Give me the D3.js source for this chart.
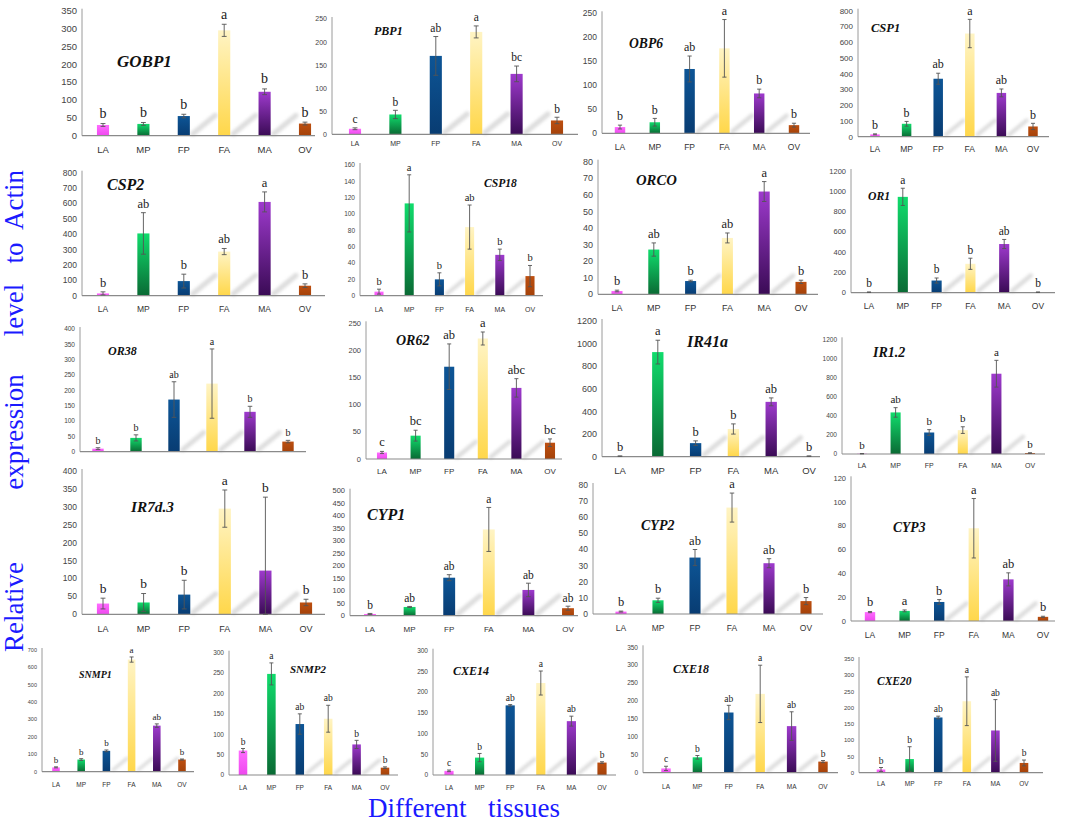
<!DOCTYPE html>
<html>
<head>
<meta charset="utf-8">
<script src="https://cdn.jsdelivr.net/npm/d3@7"></script>
<style>
  body { margin: 0; background: #fff; }
  svg { display: block; }
  .tick { font-family: "Liberation Sans Narrow", "Liberation Sans", Arial, sans-serif; fill: #444; }
  .cat { font-family: "Liberation Sans", Arial, sans-serif; fill: #333; }
  .sig { font-family: "Liberation Serif", "Times New Roman", serif; }
  .ttl { font-family: "Liberation Serif", "Times New Roman", serif; font-weight: bold; font-style: italic; fill: #111; }
  .big { font-family: "Liberation Serif", "Times New Roman", serif; fill: #1a1aff; }
</style>
</head>
<body>
<div id="chart"></div>
<script>
// tissues on the x axis of every panel
var tissues = ["LA", "MP", "FP", "FA", "MA", "OV"];

var genes = ["GOBP1", "PBP1", "OBP6", "CSP1",
             "CSP2", "CSP18", "ORCO", "OR1",
             "OR38", "OR62", "IR41a", "IR1.2",
             "IR7d.3", "CYP1", "CYP2", "CYP3",
             "SNMP1", "SNMP2", "CXE14", "CXE18", "CXE20"];

// relative expression (mean), one row per gene, in tissue order
var means = [
  [30, 33, 55, 295, 123, 34],
  [12, 43, 170, 222, 131, 30],
  [13, 23, 134, 177, 83, 17],
  [15, 82, 368, 655, 278, 65],
  [15, 405, 95, 287, 610, 65],
  [5, 113, 20, 84, 50, 24],
  [2, 27, 8, 34, 62, 7.5],
  [5, 945, 120, 285, 480, 5],
  [10, 45, 170, 222, 130, 33],
  [12, 43, 170, 222, 131, 30],
  [5, 925, 120, 245, 485, 5],
  [3, 435, 225, 250, 840, 10],
  [30, 33, 55, 295, 122, 33],
  [7, 35, 152, 345, 103, 30],
  [1.5, 8.5, 35, 66, 31.5, 8],
  [7.5, 8.5, 16, 78, 35, 3.5],
  [25, 70, 120, 645, 265, 70],
  [60, 248, 125, 138, 75, 18],
  [10, 42, 168, 222, 130, 30],
  [12, 43, 168, 220, 130, 31],
  [10, 42, 170, 220, 130, 30]
];

// error bars (sd)
var sds = [
  [4, 4, 5, 17, 8, 4],
  [2, 9, 42, 13, 17, 7],
  [4, 8, 27, 60, 9, 4],
  [3, 15, 35, 90, 25, 20],
  [10, 135, 45, 20, 65, 12],
  [3, 35, 8, 27, 7, 13],
  [0.5, 4, 0.5, 3, 6, 1],
  [2, 85, 25, 55, 45, 2],
  [3, 10, 58, 113, 18, 4],
  [2, 10, 42, 12, 17, 7],
  [2, 105, 20, 45, 35, 2],
  [2, 50, 30, 35, 140, 3],
  [15, 25, 40, 52, 205, 9],
  [2, 2, 12, 88, 27, 8],
  [0.3, 1.3, 5, 9, 2.8, 2.2],
  [0.5, 0.8, 2, 25, 5.5, 0.5],
  [3, 5, 5, 15, 10, 3],
  [5, 27, 25, 33, 10, 2],
  [2, 10, 2, 29, 12, 2],
  [6, 5, 20, 80, 40, 3],
  [6, 38, 4, 75, 95, 9]
];

// significance letters
var letters = [
  ["b", "b", "b", "a", "b", "b"],
  ["c", "b", "ab", "a", "bc", "b"],
  ["b", "b", "ab", "a", "b", "b"],
  ["b", "b", "ab", "a", "ab", "b"],
  ["b", "ab", "b", "ab", "a", "b"],
  ["b", "a", "b", "ab", "b", "b"],
  ["b", "ab", "b", "ab", "a", "b"],
  ["b", "a", "b", "b", "ab", "b"],
  ["b", "b", "ab", "a", "b", "b"],
  ["c", "bc", "ab", "a", "abc", "bc"],
  ["b", "a", "b", "b", "ab", "b"],
  ["b", "ab", "b", "b", "a", "b"],
  ["b", "b", "b", "a", "b", "b"],
  ["b", "ab", "ab", "a", "ab", "ab"],
  ["b", "b", "ab", "a", "ab", "b"],
  ["b", "a", "b", "a", "ab", "b"],
  ["b", "b", "b", "a", "ab", "b"],
  ["b", "a", "ab", "ab", "b", "b"],
  ["c", "b", "ab", "a", "ab", "b"],
  ["c", "b", "ab", "a", "ab", "b"],
  ["b", "b", "ab", "a", "ab", "b"]
];

// y axis max and tick step of each panel
var axisMax  = [350, 250, 250, 800, 800, 160, 80, 1200, 400, 250, 1200, 1200, 400, 500, 80, 120, 700, 300, 300, 350, 350];
var axisStep = [50, 50, 50, 100, 100, 20, 10, 200, 50, 50, 200, 200, 50, 50, 10, 20, 100, 50, 50, 50, 50];

// where each panel sits on the page
// ax: y axis x, ae: end of x axis, c0/c5: first/last bar centre, yt: top tick y, y0: zero y,
// ly: tissue label y, tx/ty: gene name, ts: name size, fs: tick size, cs: tissue size, ls: letter size
var layout = [
  {ax: 82, ae: 315, c0: 103, c5: 305, yt: 10.7, y0: 135.7, ly: 150, tx: 117, ty: 66.7, ts: 17, fs: 9.5, cs: 9.5, ls: 14},
  {ax: 332, ae: 578, c0: 355, c5: 557, yt: 19, y0: 134.3, ly: 144, tx: 374, ty: 35, ts: 12, fs: 7, cs: 7, ls: 11.5},
  {ax: 602, ae: 810, c0: 620, c5: 794, yt: 13.3, y0: 133.3, ly: 147, tx: 629, ty: 48.3, ts: 13.6, fs: 8.5, cs: 8.5, ls: 12},
  {ax: 858, ae: 1049, c0: 875, c5: 1033, yt: 10.7, y0: 136.7, ly: 149.5, tx: 871, ty: 31.7, ts: 12.5, fs: 8, cs: 8.5, ls: 12},
  {ax: 82, ae: 325, c0: 103, c5: 305, yt: 172.7, y0: 295.7, ly: 309.5, tx: 107, ty: 190, ts: 16, fs: 8.5, cs: 8.5, ls: 12.5},
  {ax: 360, ae: 543, c0: 379, c5: 530, yt: 165, y0: 295.7, ly: 310, tx: 484, ty: 187.3, ts: 11.6, fs: 6.5, cs: 7, ls: 10.5},
  {ax: 598, ae: 818, c0: 617, c5: 801, yt: 161.7, y0: 294.3, ly: 308, tx: 636, ty: 185, ts: 14.7, fs: 9, cs: 9, ls: 12.5},
  {ax: 851, ae: 1055, c0: 869, c5: 1038, yt: 171, y0: 292.7, ly: 306, tx: 868, ty: 200, ts: 11.7, fs: 7.5, cs: 8.5, ls: 11.5},
  {ax: 80, ae: 306, c0: 98, c5: 288, yt: 329, y0: 451.7, ly: null, tx: 108, ty: 355, ts: 12, fs: 6.5, cs: 7, ls: 10},
  {ax: 366, ae: 562, c0: 382, c5: 550, yt: 323.3, y0: 459, ly: 471, tx: 396, ty: 345, ts: 14, fs: 7.5, cs: 8, ls: 12.5},
  {ax: 602, ae: 820, c0: 620, c5: 809, yt: 321, y0: 456.7, ly: 471, tx: 687, ty: 346.7, ts: 16, fs: 9, cs: 9.5, ls: 12.5},
  {ax: 842, ae: 1045, c0: 862, c5: 1030, yt: 339.3, y0: 454, ly: 466, tx: 873, ty: 356.7, ts: 14, fs: 6.5, cs: 7, ls: 11},
  {ax: 82, ae: 325, c0: 103, c5: 306, yt: 471, y0: 614.3, ly: 629, tx: 131, ty: 511.7, ts: 15.3, fs: 8.5, cs: 9, ls: 13.5},
  {ax: 350, ae: 578, c0: 370, c5: 568, yt: 490.7, y0: 615.7, ly: 629, tx: 367, ty: 520, ts: 16, fs: 7.5, cs: 8, ls: 11.5},
  {ax: 593, ae: 823, c0: 621, c5: 806, yt: 485, y0: 614, ly: 628, tx: 641, ty: 530, ts: 14, fs: 8.5, cs: 8.5, ls: 12.5},
  {ax: 851, ae: 1055, c0: 870, c5: 1043, yt: 478.3, y0: 621, ly: 635.5, tx: 893, ty: 531.7, ts: 13.6, fs: 7.5, cs: 8.5, ls: 12.5},
  {ax: 42, ae: 194, c0: 56, c5: 182, yt: 650, y0: 771.7, ly: 785, tx: 79, ty: 678.3, ts: 10, fs: 5.5, cs: 6.5, ls: 9},
  {ax: 229, ae: 398, c0: 243, c5: 385, yt: 652.7, y0: 775, ly: 787.5, tx: 290, ty: 673.3, ts: 11, fs: 6.5, cs: 6.5, ls: 9.5},
  {ax: 433, ae: 616, c0: 449, c5: 602, yt: 650.7, y0: 775, ly: 787.5, tx: 453, ty: 675, ts: 12, fs: 6.5, cs: 6.5, ls: 9.5},
  {ax: 643, ae: 838, c0: 666, c5: 823, yt: 647.3, y0: 772.7, ly: 786.5, tx: 673, ty: 673.3, ts: 12, fs: 6.5, cs: 6.5, ls: 9.5},
  {ax: 859, ae: 1043, c0: 881, c5: 1024, yt: 659, y0: 772.7, ly: 784, tx: 877, ty: 685, ts: 11.5, fs: 6, cs: 6.5, ls: 9.5}
];

// bar colours, top -> bottom
var barColors = {
  LA: ["#ff6cff", "#ee48ee"],
  MP: ["#10dc6c", "#0a6a34"],
  FP: ["#0d5596", "#083c72"],
  FA: ["#fff4c4", "#ffd74a"],
  MA: ["#9e3acd", "#3a0b55"],
  OV: ["#bd4f10", "#a4420a"]
};

const W = 1065, H = 823;

const svg = d3.select("#chart").append("svg")
  .attr("width", W)
  .attr("height", H);

var defs = svg.append("defs");

tissues.forEach(function(t) {
  var g = defs.append("linearGradient")
    .attr("id", "grad-" + t)
    .attr("x1", 0).attr("y1", 0).attr("x2", 0).attr("y2", 1);
  g.append("stop").attr("offset", "0%").attr("stop-color", barColors[t][0]);
  g.append("stop").attr("offset", "100%").attr("stop-color", barColors[t][1]);
});

defs.append("filter")
  .attr("id", "blur")
  .attr("x", "-50%").attr("y", "-50%").attr("width", "200%").attr("height", "200%")
  .append("feGaussianBlur").attr("stdDeviation", 1.8);

genes.forEach(function(gene, i) {
  var L = layout[i];
  var step = (L.c5 - L.c0) / 5;

  var x = d3.scaleBand()
    .domain(tissues)
    .range([L.c0 - step / 2, L.c5 + step / 2])
    .paddingInner(0.7)
    .paddingOuter(0.35);

  var y = d3.scaleLinear()
    .domain([0, axisMax[i]])
    .range([L.y0, L.yt]);

  var g = svg.append("g").attr("class", "panel");

  var rows = tissues.map(function(t, j) {
    return {t: t, v: means[i][j], e: sds[i][j], s: letters[i][j]};
  });

  // shadow streaks behind some bars
  g.selectAll("line.streak")
    .data(rows.filter(function(d) { return d.t == "FP" || d.t == "FA" || d.t == "MA"; }))
    .enter()
    .append("line")
    .attr("class", "streak")
    .attr("x1", function(d) { return x(d.t) + x.bandwidth() + 3; })
    .attr("y1", L.y0 - 2)
    .attr("x2", function(d) { return x(d.t) + x.bandwidth() + 3 + step * 0.55; })
    .attr("y2", L.y0 - 2 - step * 0.45)
    .style("stroke", "#a0a0a0")
    .style("stroke-width", Math.max(3, step * 0.13))
    .style("stroke-linecap", "round")
    .style("opacity", 0.35)
    .attr("filter", "url(#blur)");

  // y tick labels
  var ticks = d3.range(0, axisMax[i] + axisStep[i] / 2, axisStep[i]);
  g.selectAll("text.tick")
    .data(ticks)
    .enter()
    .append("text")
    .attr("class", "tick")
    .attr("x", L.ax - 5)
    .attr("y", function(d) { return y(d); })
    .attr("dy", "0.35em")
    .attr("text-anchor", "end")
    .style("font-size", L.fs + "px")
    .text(function(d) { return d; });

  // bars
  g.selectAll("rect.bar")
    .data(rows)
    .enter()
    .append("rect")
    .attr("class", "bar")
    .attr("x", function(d) { return x(d.t); })
    .attr("width", x.bandwidth())
    .attr("y", function(d) { return y(d.v); })
    .attr("height", function(d) { return L.y0 - y(d.v); })
    .style("fill", function(d) { return "url(#grad-" + d.t + ")"; });

  // axes lines
  g.append("line")
    .attr("x1", L.ax).attr("x2", L.ax)
    .attr("y1", L.y0).attr("y2", L.yt - 2)
    .style("stroke", "#9a9a9a").style("stroke-width", 1);
  g.append("line")
    .attr("x1", L.ax).attr("x2", L.ae)
    .attr("y1", L.y0).attr("y2", L.y0)
    .style("stroke", "#8a8a8a").style("stroke-width", 1.2);

  // error bars
  var cap = Math.max(2, step * 0.06);
  var eb = g.selectAll("g.err")
    .data(rows)
    .enter()
    .append("g")
    .attr("class", "err")
    .style("stroke", "#555")
    .style("stroke-width", 0.9);
  eb.append("line")
    .attr("x1", function(d) { return x(d.t) + x.bandwidth() / 2; })
    .attr("x2", function(d) { return x(d.t) + x.bandwidth() / 2; })
    .attr("y1", function(d) { return y(Math.max(0, d.v - d.e)); })
    .attr("y2", function(d) { return y(d.v + d.e); });
  eb.append("line")
    .attr("x1", function(d) { return x(d.t) + x.bandwidth() / 2 - cap; })
    .attr("x2", function(d) { return x(d.t) + x.bandwidth() / 2 + cap; })
    .attr("y1", function(d) { return y(d.v + d.e); })
    .attr("y2", function(d) { return y(d.v + d.e); });
  eb.append("line")
    .attr("x1", function(d) { return x(d.t) + x.bandwidth() / 2 - cap; })
    .attr("x2", function(d) { return x(d.t) + x.bandwidth() / 2 + cap; })
    .attr("y1", function(d) { return y(Math.max(0, d.v - d.e)); })
    .attr("y2", function(d) { return y(Math.max(0, d.v - d.e)); });

  // significance letters
  g.selectAll("text.sig")
    .data(rows)
    .enter()
    .append("text")
    .attr("class", "sig")
    .attr("x", function(d) { return x(d.t) + x.bandwidth() / 2; })
    .attr("y", function(d) { return y(d.v + d.e) - L.ls * 0.4; })
    .attr("text-anchor", "middle")
    .style("font-size", L.ls + "px")
    .style("fill", "#1a1a1a")
    .text(function(d) { return d.s; });

  // tissue labels
  if (L.ly != null) {
    g.selectAll("text.cat")
      .data(tissues)
      .enter()
      .append("text")
      .attr("class", "cat")
      .attr("x", function(d) { return x(d) + x.bandwidth() / 2; })
      .attr("y", L.ly)
      .attr("dy", "0.35em")
      .attr("text-anchor", "middle")
      .style("font-size", L.cs + "px")
      .text(function(d) { return d; });
  }

  // gene name
  g.append("text")
    .attr("class", "ttl")
    .attr("x", L.tx)
    .attr("y", L.ty)
    .style("font-size", L.ts + "px")
    .text(gene);
});

// y axis title, one word at a time
var yWords = [
  {w: "Relative", c: 607},
  {w: "expression", c: 432},
  {w: "level", c: 310},
  {w: "to", c: 253},
  {w: "Actin", c: 200}
];
svg.selectAll("text.ytitle")
  .data(yWords)
  .enter()
  .append("text")
  .attr("class", "big ytitle")
  .attr("transform", function(d) { return "translate(23," + d.c + ") rotate(-90)"; })
  .attr("text-anchor", "middle")
  .style("font-size", "27px")
  .text(function(d) { return d.w; });

// x axis title
svg.append("text")
  .attr("class", "big")
  .attr("x", 368).attr("y", 817)
  .style("font-size", "27px")
  .text("Different");
svg.append("text")
  .attr("class", "big")
  .attr("x", 488).attr("y", 817)
  .style("font-size", "27px")
  .text("tissues");
</script>
</body>
</html>
